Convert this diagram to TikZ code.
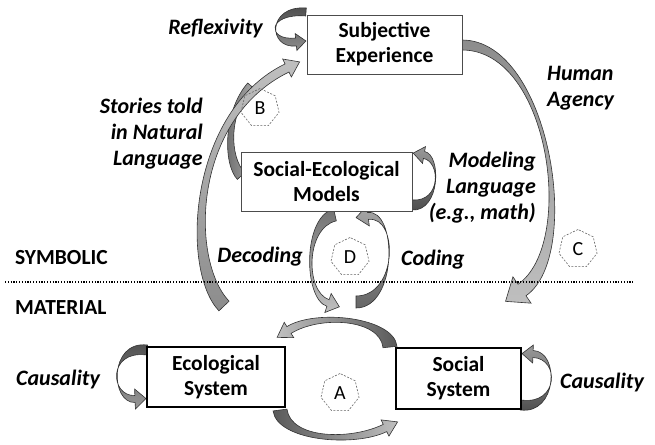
\documentclass[tikz,border=0pt]{standalone}
\usepackage{fontspec}
\setmainfont{Carlito}
\usetikzlibrary{calc,shapes.geometric}
% #1 options, #2..#5 centre-line Bezier points, #6 half tail width, #7 half neck width, #8 half head width, #9 head length
\newcommand\curvarrow[9]{%
 \path[#1] ($(#2)!#6!90:(#3)$) .. controls ($(#3)!#6!-90:(#2)$) and ($(#4)!#7!90:(#5)$) .. ($(#5)!#7!-90:(#4)$)
 -- ($(#5)!#8!-90:(#4)$) -- ($(#5)!-#9!(#4)$) -- ($(#5)!#8!90:(#4)$) -- ($(#5)!#7!90:(#4)$)
 .. controls ($(#4)!#7!-90:(#5)$) and ($(#3)!#6!90:(#2)$) .. ($(#2)!#6!-90:(#3)$) -- cycle;}
\tikzset{
 arrowband/.style={draw=black!80, line width=0.6pt},
 boxtext/.style={font=\fontsize{21.5}{25}\selectfont\bfseries, align=center},
 thinbox/.style={boxtext, draw=black!70, line width=0.8pt, fill=white, inner sep=0pt},
 thickbox/.style={boxtext, draw=black, line width=2pt, fill=white, inner sep=0pt},
 lbl/.style={font=\fontsize{22}{26}\selectfont\bfseries\itshape, inner sep=0pt},
 sidelbl/.style={font=\fontsize{21.5}{25}\selectfont\bfseries, inner sep=0pt},
 hept/.style={regular polygon, regular polygon sides=7, draw=black!60, dash pattern=on 2pt off 1.5pt, line width=0.6pt, minimum size=39pt, inner sep=0pt, font=\fontsize{20}{22}\selectfont},
}
\begin{document}
\begin{tikzpicture}[x=1pt,y=-1pt]
\useasboundingbox[fill=white] (0,0) rectangle (655,444);
% arrows
\curvarrow{arrowband, left color=black!60, right color=black!35}{241,176}{226,160}{226,112}{250,85}{5pt}{3pt}{3pt}{0.01pt}
\curvarrow{arrowband, top color=black!25, bottom color=black!45}{224,306}{185,265}{190,115}{287,68}{7pt}{4.5pt}{10pt}{14pt}
\curvarrow{arrowband, top color=black!70, bottom color=black!45}{306,12}{267,9}{267,45}{296,42}{4pt}{4pt}{8.5pt}{10pt}
\curvarrow{arrowband, top color=black!45, bottom color=black!25}{462,45}{550,45}{580,250}{522,290}{5pt}{7pt}{16pt}{20pt}
\curvarrow{arrowband, top color=black!40, bottom color=black!70}{412,205}{441,207}{441,158}{424,155}{5pt}{3.5pt}{8.5pt}{11pt}
\curvarrow{arrowband, top color=black!70, bottom color=black!40}{147,350}{108,345}{110,400}{135,399}{5pt}{3.5pt}{10pt}{11pt}
\curvarrow{arrowband, top color=black!40, bottom color=black!70}{521,405}{558,410}{560,355}{533,354}{5pt}{3.5pt}{9pt}{11pt}
\curvarrow{arrowband, top color=black!55, bottom color=black!25}{335,215}{304,222}{304,295}{328,303}{6pt}{3.5pt}{10pt}{12pt}
\curvarrow{arrowband, top color=black!35, bottom color=black!60}{356,302}{398,302}{398,212}{368,216}{6pt}{3.5pt}{10pt}{12pt}
\curvarrow{arrowband, left color=black!25, right color=black!65}{390,347}{387,318}{318,312}{289,330}{7pt}{4pt}{9pt}{14pt}
\curvarrow{arrowband, left color=black!65, right color=black!25}{280,410}{284,440}{352,444}{385,428}{7pt}{4pt}{9pt}{14pt}
% boxes
\node[thinbox, minimum width=155pt, minimum height=59pt] (subj) at (384.5,44.5) {Subjective\\Experience};
\node[thinbox, minimum width=171pt, minimum height=59pt] (sem) at (326.5,181.5) {Social-Ecological\\Models};
\node[thickbox, minimum width=138pt, minimum height=60pt] (eco) at (216,377) {Ecological\\System};
\node[thickbox, minimum width=125pt, minimum height=61pt] (soc) at (458.5,378.5) {Social\\System};
% labels
\node[lbl, anchor=east] (refl) at (263,29) {Reflexivity};
\node[lbl, anchor=east, align=right] (stories) at (203,134) {Stories told\\in Natural\\Language};
\node[lbl, anchor=west, align=left] (agency) at (547,88) {Human\\Agency};
\node[lbl, anchor=east, align=right] (modl) at (536,188) {Modeling\\Language\\(e.g., math)};
\node[lbl, anchor=east] (dec) at (303,257) {Decoding};
\node[lbl, anchor=west] (cod) at (401,260) {Coding};
\node[lbl, anchor=west] (caus1) at (16,380) {Causality};
\node[lbl, anchor=west] (caus2) at (560,383) {Causality};
\node[sidelbl, anchor=west] (symb) at (15,258) {SYMBOLIC};
\node[sidelbl, anchor=west] (mat) at (15,308) {MATERIAL};
% markers
\node[hept] (hb) at (260,108) {B};
\node[hept] (hc) at (578,249) {C};
\node[hept] (hd) at (350,257) {D};
\node[hept] (ha) at (340,393) {A};
% divider
\coordinate (dl) at (5,282);
\coordinate (dr) at (633,282);
\draw[line width=1.2pt, dash pattern=on 1.2pt off 1.6pt] (dl) -- (dr);
\end{tikzpicture}
\end{document}
